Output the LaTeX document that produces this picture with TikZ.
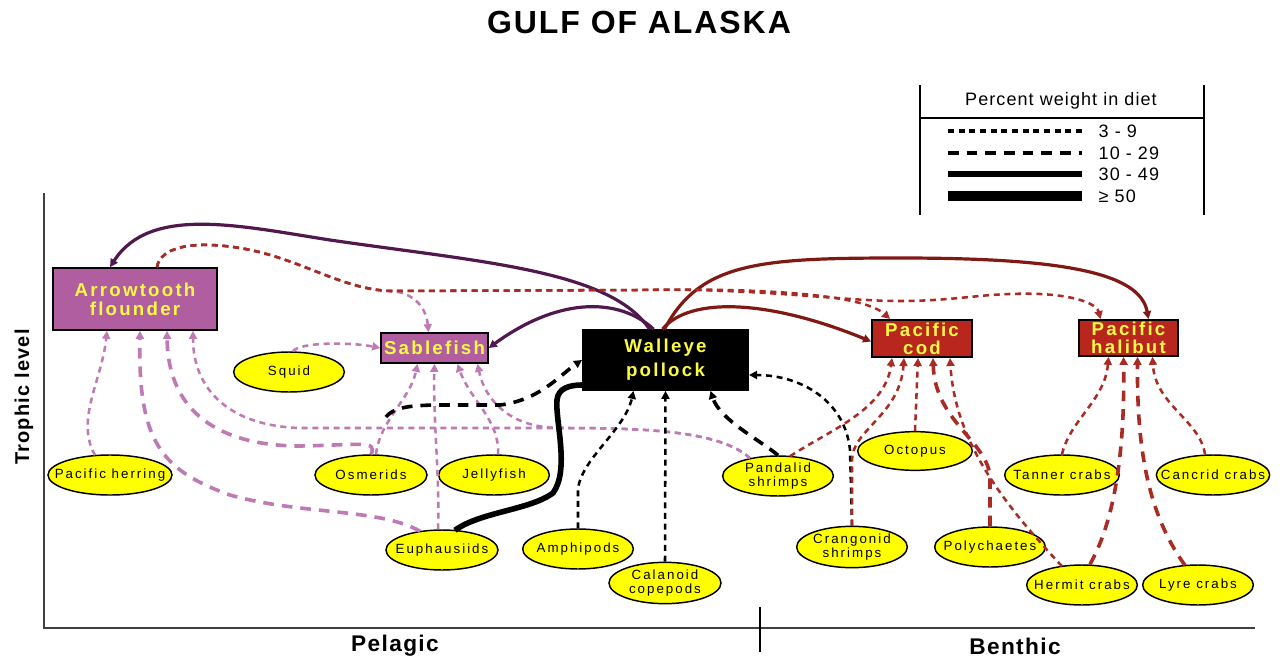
\documentclass[tikz,border=0pt]{standalone}
\usepackage{fontspec}
\setmainfont{Liberation Sans}
\newfontfamily\preyfont[LetterSpace=15]{Liberation Sans}
\newfontfamily\fishfont[LetterSpace=12]{Liberation Sans}
\newfontfamily\wordfont[LetterSpace=6]{Liberation Sans}
\usetikzlibrary{shapes.geometric,arrows.meta,calc}

\definecolor{fishpurple}{RGB}{176,94,160}
\definecolor{fishred}{RGB}{184,38,30}
\definecolor{preyyellow}{RGB}{255,255,0}
\definecolor{labelyellow}{RGB}{250,250,70}
\definecolor{purpledash}{RGB}{190,122,180}
\definecolor{purpleline}{RGB}{80,24,76}
\definecolor{reddash}{RGB}{168,44,36}
\definecolor{redline}{RGB}{128,24,20}

\tikzset{
  prey/.style={ellipse, draw, line width=1.1pt, fill=preyyellow,
    inner xsep=-30pt, inner ysep=-3pt,
    minimum width=83pt, minimum height=30pt, align=center,
    font=\preyfont\fontsize{10}{11}\selectfont},
  fish/.style={rectangle, draw, line width=1.3pt, inner sep=0pt, align=center,
    text=labelyellow, font=\fishfont\bfseries\fontsize{14}{14}\selectfont},
  tip/.style={-{Triangle[length=6pt,width=6pt]}},
  diet3/.style={line width=1.9pt, dash pattern=on 4.5pt off 3.5pt},  % 3 - 9
  diet10/.style={line width=2.7pt, dash pattern=on 8pt off 6pt},     % 10 - 29
  diet30/.style={line width=2.4pt},                                  % 30 - 49
  diet50/.style={line width=4.2pt},                                  % >= 50
}

\begin{document}
\begin{tikzpicture}[x=0.75pt,y=-0.75pt]
\path[fill=white] (0,0) rectangle (1283,664);

% Title
\node (title) at (639,22) {\wordfont\bfseries\fontsize{24}{24}\selectfont GULF OF ALASKA};

% Legend
\draw[line width=1.2pt] (920,85) -- (920,215) (1204,85) -- (1204,215);
\draw[line width=1.2pt] (920,118) -- (1204,118);
\node (legtitle) at (1061,101) {\wordfont\fontsize{13.5}{14}\selectfont Percent weight in diet};
\draw[diet3, line width=2.4pt] (948,131) -- (1082,131);
\draw[diet10, line width=2.4pt] (948,153) -- (1082,153);
\draw[diet30, line width=4.3pt] (948,174) -- (1082,174);
\draw[diet50, line width=7.5pt] (948,196) -- (1082,196);
\node[anchor=west] (leg3) at (1094,131) {\wordfont\fontsize{13.5}{14}\selectfont 3 - 9};
\node[anchor=west] (leg10) at (1094,153) {\wordfont\fontsize{13.5}{14}\selectfont 10 - 29};
\node[anchor=west] (leg30) at (1094,174) {\wordfont\fontsize{13.5}{14}\selectfont 30 - 49};
\node[anchor=west] (leg50) at (1094,196) {\wordfont\fontsize{13.5}{14}\selectfont ≥ 50};

% Axes
\draw[line width=1.5pt, black!75] (44,193) -- (44,628) -- (1255,628);
\draw[line width=1.2pt] (760,607) -- (760,652);
\node[rotate=90] (trophic) at (24,397) {\wordfont\bfseries\fontsize{15}{15}\selectfont Trophic level};
\node (pelagic) at (395,646) {\wordfont\bfseries\fontsize{17}{17}\selectfont Pelagic};
\node (benthic) at (1015,646) {\wordfont\bfseries\fontsize{17}{17}\selectfont Benthic};

% Predators
\node[fish, fill=fishpurple, minimum width=123pt, minimum height=46.5pt] (arrowtooth) at (135,299) {Arrowtooth\\flounder};
\node[fish, fill=fishpurple, minimum width=80pt, minimum height=22.5pt] (sablefish) at (434.5,348) {Sablefish};
\node[fish, fill=black, minimum width=124pt, minimum height=45pt, font=\fishfont\bfseries\fontsize{14}{18}\selectfont] (pollock) at (665.5,360) {Walleye\\pollock};
\node[fish, fill=fishred, minimum width=75pt, minimum height=28pt, font=\fishfont\bfseries\fontsize{14}{13.5}\selectfont] (cod) at (922,338.5) {Pacific\\cod};
\node[fish, fill=fishred, minimum width=74pt, minimum height=27pt, font=\fishfont\bfseries\fontsize{14}{13.5}\selectfont] (halibut) at (1128.5,338) {Pacific\\halibut};

% Prey
\node[prey] (squid) at (289,372) {Squid};
\node[prey, minimum width=93pt] (herring) at (110,475) {Pacific herring};
\node[prey, minimum width=84pt] (osmerids) at (371,475) {Osmerids};
\node[prey] (jellyfish) at (494,475) {Jellyfish};
\node[prey, minimum width=84pt] (euphausiids) at (442,550) {Euphausiids};
\node[prey] (amphipods) at (578,549) {Amphipods};
\node[prey, minimum width=84pt, minimum height=31pt] (calanoid) at (665,583) {Calanoid\\copepods};
\node[prey] (pandalid) at (778,476) {Pandalid\\shrimps};
\node[prey, minimum width=86pt, minimum height=29pt] (octopus) at (915,451) {Octopus};
\node[prey, minimum height=31pt] (crangonid) at (852,547) {Crangonid\\shrimps};
\node[prey] (polychaetes) at (990,547) {Polychaetes};
\node[prey, minimum width=86pt] (tanner) at (1062,475) {Tanner crabs};
\node[prey, minimum width=85pt] (cancrid) at (1213,475) {Cancrid crabs};
\node[prey] (hermit) at (1082,585) {Hermit crabs};
\node[prey] (lyre) at (1198,585) {Lyre crabs};

% Pollock eaten by the big fish
\draw[purpleline, diet30, tip] ($(pollock.north)+(-16,0)$) .. controls (610,270) and (480,262) .. (330,240)
  .. controls (240,226) and (150,205) .. ($(arrowtooth.north)+(-25,0)$);
\draw[purpleline, diet30, tip] ($(pollock.north)+(-12,0)$) .. controls (620,298) and (560,296) .. (sablefish.east);
\draw[redline, diet30, tip] ($(pollock.north)+(-3,0)$) .. controls (690,296) and (770,300) .. ($(cod.west)+(0,3)$);
\draw[redline, diet30, tip] ($(pollock.north)+(-1,0)$) .. controls (700,262) and (760,258) .. (900,258)
  .. controls (1060,258) and (1140,272) .. ($(halibut.north)+(20,0)$);

% Arrowtooth eaten by sablefish, cod, halibut
\draw[purpledash, diet3, tip] ($(arrowtooth.north)+(22,0)$) .. controls (160,248) and (190,240) .. (240,248)
  .. controls (300,258) and (340,289) .. (390,291) .. controls (412,292) and (426,306) .. ($(sablefish.north)+(-6,0)$);
\draw[reddash, diet3, tip] ($(arrowtooth.north)+(22,0)$) .. controls (160,248) and (190,240) .. (240,248)
  .. controls (300,258) and (340,289) .. (390,291) -- (640,290)
  .. controls (740,288) and (860,292) .. ($(cod.north)+(-32,0)$);
\draw[reddash, diet3, tip] ($(arrowtooth.north)+(22,0)$) .. controls (160,248) and (190,240) .. (240,248)
  .. controls (300,258) and (340,289) .. (390,291) -- (640,290)
  .. controls (760,288) and (840,301) .. (900,301) .. controls (960,301) and (985,292) .. (1040,294)
  .. controls (1080,296) and (1097,305) .. ($(halibut.north)+(-28,0)$);

% Prey of arrowtooth flounder
\draw[purpledash, diet3, tip] ($(herring.north)+(-15,1)$) .. controls (75,420) and (102,380) .. ($(arrowtooth.south)+(-28,0)$);
\draw[purpledash, diet10, tip] ($(euphausiids.north)+(-22,2)$) .. controls (380,508) and (300,515) .. (230,495)
  .. controls (160,470) and (138,440) .. ($(arrowtooth.south)+(5,0)$);
\draw[purpledash, diet10, tip] (osmerids.north) .. controls (378,440) and (360,445) .. (300,446)
  .. controls (230,446) and (168,420) .. ($(arrowtooth.south)+(32,0)$);
\draw[purpledash, diet3, tip] ($(pandalid.north)+(-28,3)$) .. controls (720,430) and (640,428) .. (560,428)
  -- (300,428) .. controls (230,426) and (193,390) .. ($(arrowtooth.south)+(58,0)$);

% Prey of sablefish
\draw[purpledash, diet3, tip] ($(squid.north)+(4,0)$) .. controls (300,342) and (350,342) .. (sablefish.west);
\draw[purpledash, diet3, tip] ($(osmerids.north)+(5,0)$) .. controls (380,420) and (410,400) .. ($(sablefish.south)+(-17,0)$);
\draw[purpledash, diet3, tip] ($(euphausiids.north)+(-4,0)$) .. controls (440,480) and (433,420) .. (sablefish.south);
\draw[purpledash, diet3, tip] ($(jellyfish.north)+(4,0)$) .. controls (500,420) and (470,400) .. ($(sablefish.south)+(23,0)$);
\draw[purpledash, diet3, tip] ($(pandalid.north)+(-28,3)$) .. controls (720,430) and (640,428) .. (560,428)
  .. controls (510,428) and (485,400) .. ($(sablefish.south)+(43,0)$);

% Prey of walleye pollock
\draw[diet10, tip] (386,417) .. controls (395,405) and (420,405) .. (450,405) -- (500,405)
  .. controls (540,400) and (560,375) .. (pollock.west);
\draw[diet50] ($(euphausiids.north)+(13,1)$) .. controls (480,512) and (530,510) .. (553,493)
  .. controls (570,470) and (555,420) .. (557,400) .. controls (558,388) and (570,385) .. ($(pollock.west)+(0,25)$);
\draw[diet3, tip] (amphipods.north) -- (578,490) .. controls (580,460) and (625,430) .. ($(pollock.south)+(-32,0)$);
\draw[diet3, tip] (calanoid.north) -- (pollock.south);
\draw[diet10, tip] (pandalid.north) .. controls (760,440) and (720,420) .. ($(pollock.south)+(45,0)$);
\draw[diet3, tip] (crangonid.north) -- (850,450) .. controls (845,400) and (800,375) .. ($(pollock.east)+(0,15)$);

% Prey of pacific cod
\draw[reddash, diet3, tip] ($(pandalid.north)+(12,1)$) .. controls (830,430) and (885,410) .. ($(cod.south)+(-30,0)$);
\draw[reddash, diet3, tip] (crangonid.north) -- (852,460) .. controls (852,430) and (900,415) .. ($(cod.south)+(-18,0)$);
\draw[reddash, diet3, tip] (octopus.north) -- ($(cod.south)+(-4,0)$);
\draw[reddash, diet10, tip] (polychaetes.north) -- (990,475) .. controls (985,440) and (935,420) .. ($(cod.south)+(11,0)$);
\draw[reddash, diet3, tip] ($(hermit.north)+(-20,2)$) .. controls (1000,500) and (955,440) .. ($(cod.south)+(28,0)$);

% Prey of pacific halibut
\draw[reddash, diet3, tip] (tanner.north) .. controls (1070,420) and (1105,400) .. ($(halibut.south)+(-20,0)$);
\draw[reddash, diet10, tip] ($(hermit.north)+(8,0)$) .. controls (1115,520) and (1125,450) .. ($(halibut.south)+(-5,0)$);
\draw[reddash, diet10, tip] ($(lyre.north)+(-13,1)$) .. controls (1145,510) and (1137,440) .. ($(halibut.south)+(9,0)$);
\draw[reddash, diet3, tip] ($(cancrid.north)+(-8,0)$) .. controls (1200,420) and (1155,405) .. ($(halibut.south)+(24,0)$);
\end{tikzpicture}
\end{document}
